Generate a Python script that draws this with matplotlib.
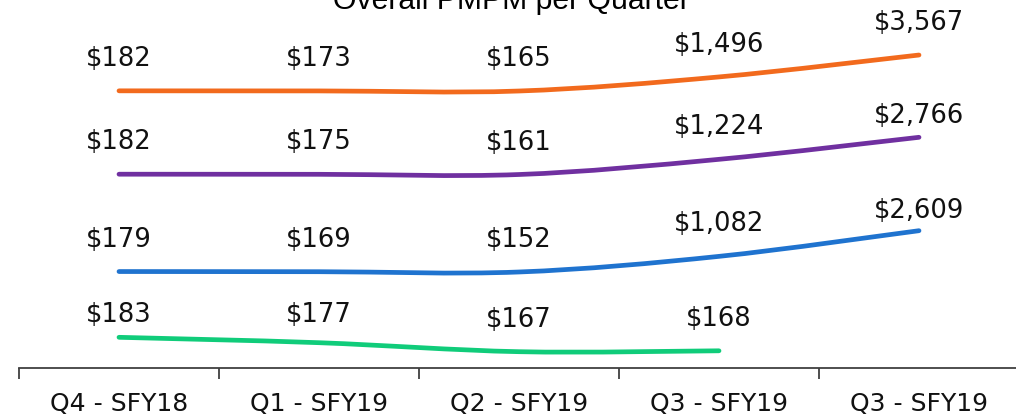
"""Overall PMPM per quarter, one smoothed line per cohort."""

import matplotlib
matplotlib.use("Agg")
import matplotlib.pyplot as plt
from matplotlib.path import Path
from matplotlib.patches import PathPatch

quarters = ["Q4 - SFY18", "Q1 - SFY19", "Q2 - SFY19", "Q3 - SFY19", "Q3 - SFY19"]

orange_pmpm = [182, 173, 165, 1496, 3567]
purple_pmpm = [182, 175, 161, 1224, 2766]
blue_pmpm = [179, 169, 152, 1082, 2609]
green_pmpm = [183, 177, 167, 168]

# each series gets its own vertical band (axes fraction for its min and max)
series = [
    (orange_pmpm, "#F26A1D", (0.7527, 0.8505)),
    (purple_pmpm, "#7030A0", (0.5258, 0.6269)),
    (blue_pmpm, "#1F73CF", (0.2609, 0.3731)),
    (green_pmpm, "#10CC7A", (0.0443, 0.0834)),
]

# baseline lift of the value labels above the line, in points
LABEL_LIFT = 18.0
label_lift_override = {
    (1, 4): 10.5,
    (2, 4): 9.2,
    (3, 0): 11.0,
    (3, 1): 15.0,
}

W, H = 1016, 417
fig = plt.figure(figsize=(W / 100, H / 100), dpi=100)
ax = fig.add_axes([19 / W, 49 / H, 1000 / W, 368 / H])


def smooth_path(xs, ys):
    """Cubic Bezier through the points (Catmull-Rom style, like Excel smoothing)."""
    pts = list(zip(xs, ys))
    verts = [pts[0]]
    codes = [Path.MOVETO]
    n = len(pts)
    for i in range(n - 1):
        p0 = pts[i - 1] if i > 0 else pts[i]
        p1 = pts[i]
        p2 = pts[i + 1]
        p3 = pts[i + 2] if i + 2 < n else pts[i + 1]
        c1 = (p1[0] + (p2[0] - p0[0]) / 6, p1[1] + (p2[1] - p0[1]) / 6)
        c2 = (p2[0] - (p3[0] - p1[0]) / 6, p2[1] - (p3[1] - p1[1]) / 6)
        verts += [c1, c2, p2]
        codes += [Path.CURVE4] * 3
    return Path(verts, codes)


for s_idx, (values, color, (f_lo, f_hi)) in enumerate(series):
    tw = ax.twinx()
    lo, hi = min(values), max(values)
    span = (hi - lo) / (f_hi - f_lo)
    bottom = lo - f_lo * span
    tw.set_ylim(bottom, bottom + span)
    tw.axis("off")

    xs = list(range(len(values)))
    patch = PathPatch(smooth_path(xs, values), facecolor="none", edgecolor=color,
                      linewidth=3.4, capstyle="round", joinstyle="round")
    tw.add_patch(patch)

    for i, v in enumerate(values):
        lift = label_lift_override.get((s_idx, i), LABEL_LIFT)
        tw.annotate(f"${v:,}", (i, v), textcoords="offset points", xytext=(0, lift),
                    ha="center", va="baseline", fontsize=18.6, color="#111111")

ax.set_xlim(-0.5, len(quarters) - 0.5)
ax.set_ylim(0, 1)
ax.set_xticks(range(len(quarters)))
ax.set_xticklabels(quarters, fontsize=18, color="#111111")
ax.set_xticks([i - 0.5 for i in range(len(quarters) + 1)], minor=True)
ax.tick_params(axis="x", which="major", length=0, pad=17)
ax.tick_params(axis="x", which="minor", length=8, width=1.3, color="#404040")
ax.set_yticks([])
for side in ("left", "right", "top"):
    ax.spines[side].set_visible(False)
ax.spines["bottom"].set_color("#404040")
ax.spines["bottom"].set_linewidth(1.3)

fig.text(0.503, 1 - 9 / H, "Overall PMPM per Quarter", ha="center", va="baseline",
         fontsize=21.7, family="Liberation Sans", color="#000000")

fig.savefig("out.png", dpi=100)
